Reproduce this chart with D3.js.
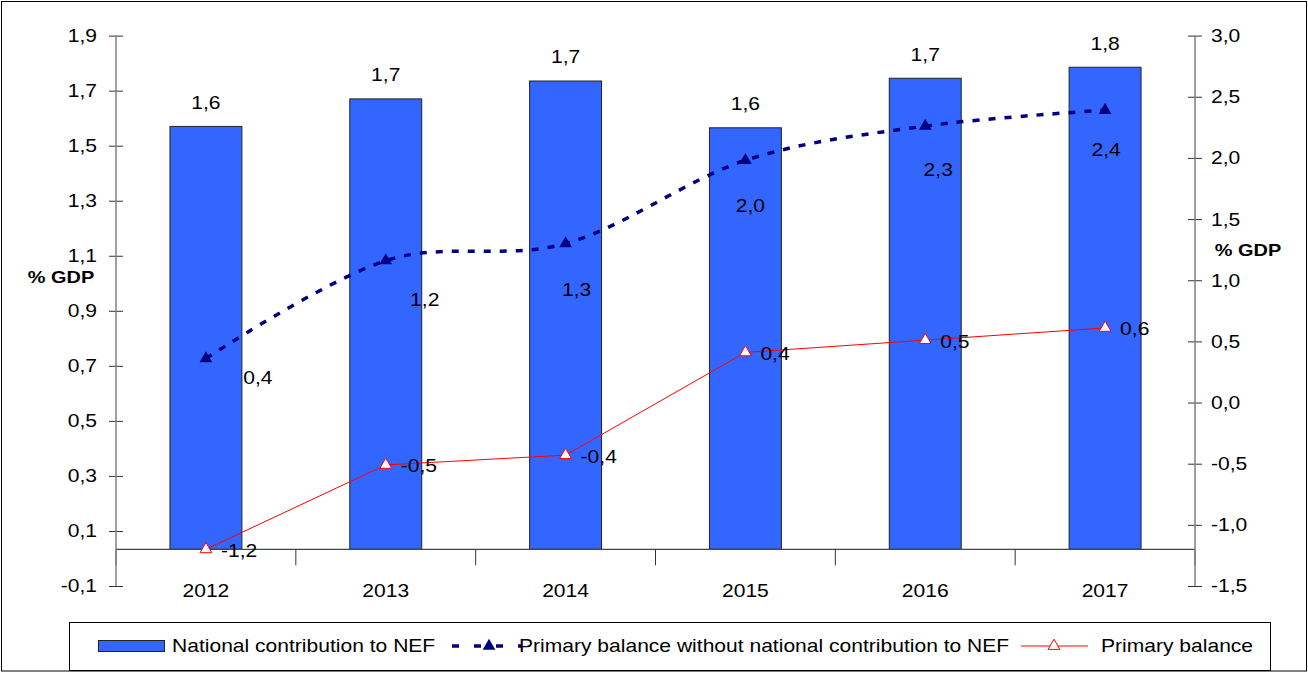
<!DOCTYPE html>
<html>
<head>
<meta charset="utf-8">
<script src="https://cdn.jsdelivr.net/npm/d3@7"></script>
<style>
  html, body { margin: 0; padding: 0; background: #fff; }
  svg { display: block; }
  text { font-family: "Liberation Sans", Arial, sans-serif; fill: #000; }
</style>
</head>
<body>
<svg id="chart" width="1308" height="673"></svg>
<script>
// ---- data ----
const years = ["2012", "2013", "2014", "2015", "2016", "2017"];
const nationalContribution = [1.57, 1.67, 1.735, 1.565, 1.745, 1.785];          // left axis, % GDP
const balanceWithoutContribution = [0.36, 1.16, 1.30, 1.98, 2.26, 2.39];      // right axis, % GDP
const primaryBalance = [-1.2, -0.51, -0.43, 0.41, 0.51, 0.61];                 // right axis, % GDP
const leftTicks = [-0.1, 0.1, 0.3, 0.5, 0.7, 0.9, 1.1, 1.3, 1.5, 1.7, 1.9];
const rightTicks = [-1.5, -1.0, -0.5, 0.0, 0.5, 1.0, 1.5, 2.0, 2.5, 3.0];
const seriesNames = ["National contribution to NEF",
                     "Primary balance without national contribution to NEF",
                     "Primary balance"];

// ---- layout ----
const plot = { left: 116, right: 1195, top: 35.6, bottom: 586 };
const axisCrossRight = -1.2;   // category axis crosses the secondary axis here
const SX = 1.17;               // horizontal stretch of the lettering
const FS = 18;
const barBlue = "#3366FF", navy = "#000080", red = "#FF0000";
// label nudges (dx, dy) for the dashed series, relative to each point
const dashLabelNudge = [[52, 19], [39, 39], [11, 46], [5, 45], [13, 43], [1, 39]];

const fmt = v => d3.format(".1f")(v).replace(".", ",").replace("−", "-");

const svg = d3.select("#chart");

function label(parent, x, y, str, anchor, opts = {}) {
  return parent.append("text")
    .attr("transform", `translate(${x},${y}) scale(${SX},1)`)
    .attr("text-anchor", anchor || "middle")
    .attr("dy", "0.36em")
    .style("font-size", (opts.size || FS) + "px")
    .style("font-weight", opts.bold ? "bold" : "normal")
    .text(str);
}

// outer frame
svg.append("rect").attr("x", 1.5).attr("y", 1.5).attr("width", 1305).attr("height", 669.5)
  .attr("fill", "#fff").attr("stroke", "#000").attr("stroke-width", 1);

// scales
const x = d3.scaleBand().domain(years).range([plot.left, plot.right]).paddingInner(0).paddingOuter(0);
const yL = d3.scaleLinear().domain([-0.1, 1.9]).range([plot.bottom, plot.top]);
const yR = d3.scaleLinear().domain([-1.5, 3.0]).range([plot.bottom, plot.top]);
const cx = d => x(d) + x.bandwidth() / 2;
const baseY = yR(axisCrossRight);
const barW = x.bandwidth() * 0.4;

// bars
const g = svg.append("g");
g.selectAll("rect.bar").data(years).join("rect")
  .attr("class", "bar")
  .attr("x", (d) => cx(d) - barW / 2)
  .attr("y", (d, i) => yL(nationalContribution[i]))
  .attr("width", barW)
  .attr("height", (d, i) => baseY - yL(nationalContribution[i]))
  .attr("fill", barBlue).attr("stroke", "#222").attr("stroke-width", 1);

// category axis
const xAxis = svg.append("g");
xAxis.append("line").attr("x1", plot.left).attr("x2", plot.right)
  .attr("y1", baseY).attr("y2", baseY).attr("stroke", "#444").attr("stroke-width", 1.2);
const bounds = years.map(d => x(d)).concat([plot.right]);
xAxis.selectAll("line.tick").data(bounds).join("line")
  .attr("class", "tick")
  .attr("x1", d => d).attr("x2", d => d)
  .attr("y1", baseY).attr("y2", baseY + 16)
  .attr("stroke", "#333").attr("stroke-width", 1);
years.forEach(d => label(xAxis, cx(d), 591, d));

// left value axis
const leftAxis = svg.append("g")
  .attr("transform", `translate(${plot.left},0)`)
  .call(d3.axisLeft(yL).tickValues(leftTicks).tickSize(7).tickFormat(fmt));
leftAxis.select(".domain").remove();
leftAxis.selectAll(".tick line").attr("x2", 7).attr("x1", -7).attr("stroke", "#333");
leftAxis.selectAll(".tick text").remove();
leftAxis.append("line").attr("x1", 0).attr("x2", 0).attr("y1", plot.top).attr("y2", plot.bottom)
  .attr("stroke", "#808080").attr("stroke-width", 1.5);
leftTicks.forEach(v => label(svg, 97, yL(v), fmt(v), "end"));

// right value axis
const rightAxis = svg.append("g")
  .attr("transform", `translate(${plot.right},0)`)
  .call(d3.axisRight(yR).tickValues(rightTicks).tickSize(7).tickFormat(fmt));
rightAxis.select(".domain").remove();
rightAxis.selectAll(".tick line").attr("x1", -7).attr("x2", 7).attr("stroke", "#333");
rightAxis.selectAll(".tick text").remove();
rightAxis.append("line").attr("x1", 0).attr("x2", 0).attr("y1", plot.top).attr("y2", plot.bottom)
  .attr("stroke", "#808080").attr("stroke-width", 1.5);
rightTicks.forEach(v => label(svg, 1211, yR(v), fmt(v), "start"));

// axis titles
label(svg, 61, 277, "% GDP", "middle", { bold: true, size: 17 });
label(svg, 1248, 250, "% GDP", "middle", { bold: true, size: 17 });

// bar value labels
years.forEach((d, i) => label(svg, cx(d), yL(nationalContribution[i]) - 24, fmt(nationalContribution[i])));

// triangle symbols
const tri = d3.symbol().type(d3.symbolTriangle);

// dashed smoothed series
const dashLine = d3.line()
  .x((d, i) => cx(years[i]))
  .y(d => yR(d))
  .curve(d3.curveCardinal.tension(0));
svg.append("path").datum(balanceWithoutContribution)
  .attr("d", dashLine).attr("fill", "none")
  .attr("stroke", navy).attr("stroke-width", 3.5).attr("stroke-dasharray", "7,9");
svg.selectAll("path.navyTri").data(balanceWithoutContribution).join("path")
  .attr("class", "navyTri")
  .attr("d", tri.size(70))
  .attr("transform", (d, i) => `translate(${cx(years[i])},${yR(d)})`)
  .attr("fill", navy);
balanceWithoutContribution.forEach((v, i) =>
  label(svg, cx(years[i]) + dashLabelNudge[i][0], yR(v) + dashLabelNudge[i][1], fmt(v)));

// primary balance series
const redLine = d3.line().x((d, i) => cx(years[i])).y(d => yR(d));
svg.append("path").datum(primaryBalance)
  .attr("d", redLine).attr("fill", "none").attr("stroke", red).attr("stroke-width", 1);
svg.selectAll("path.redTri").data(primaryBalance).join("path")
  .attr("class", "redTri")
  .attr("d", tri.size(60))
  .attr("transform", (d, i) => `translate(${cx(years[i])},${yR(d)})`)
  .attr("fill", "#fff").attr("stroke", red).attr("stroke-width", 1);
primaryBalance.forEach((v, i) => label(svg, cx(years[i]) + 15, yR(v) + 1, fmt(v), "start"));

// legend
const lg = svg.append("g");
lg.append("rect").attr("x", 69.5).attr("y", 622.5).attr("width", 1201).attr("height", 48)
  .attr("fill", "#fff").attr("stroke", "#000").attr("stroke-width", 1);
const ly = 646;
lg.append("rect").attr("x", 98.5).attr("y", 640.5).attr("width", 66).attr("height", 11)
  .attr("fill", barBlue).attr("stroke", "#222");
label(lg, 172, ly, seriesNames[0], "start");
lg.append("line").attr("x1", 452).attr("x2", 522).attr("y1", ly).attr("y2", ly)
  .attr("stroke", navy).attr("stroke-width", 3.5).attr("stroke-dasharray", "7,15");
lg.append("path").attr("d", tri.size(70)).attr("transform", `translate(489,${ly})`).attr("fill", navy);
label(lg, 519, ly, seriesNames[1], "start");
lg.append("line").attr("x1", 1021).attr("x2", 1088).attr("y1", ly).attr("y2", ly)
  .attr("stroke", red).attr("stroke-width", 1);
lg.append("path").attr("d", tri.size(60)).attr("transform", `translate(1054,${ly})`)
  .attr("fill", "#fff").attr("stroke", red);
label(lg, 1101, ly, seriesNames[2], "start");
</script>
</body>
</html>
